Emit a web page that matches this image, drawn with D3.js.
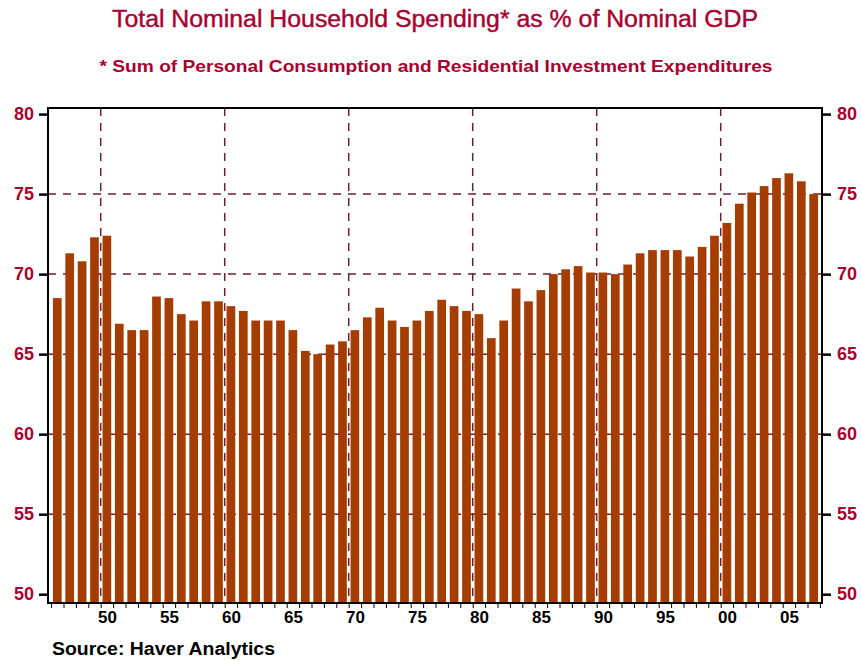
<!DOCTYPE html>
<html>
<head>
<meta charset="utf-8">
<script src="https://cdn.jsdelivr.net/npm/d3@7"></script>
<style>
    body { margin: 0; background: #fff; }
    svg { display: block; font-family: "Liberation Sans", Arial, Helvetica, sans-serif; }
</style>
</head>
<body>
<svg id="chart" width="861" height="661"></svg>
<script>

// one bar per year
const years = [
    1946, 1947, 1948, 1949, 1950, 1951, 1952, 1953, 1954, 1955,
    1956, 1957, 1958, 1959, 1960, 1961, 1962, 1963, 1964, 1965,
    1966, 1967, 1968, 1969, 1970, 1971, 1972, 1973, 1974, 1975,
    1976, 1977, 1978, 1979, 1980, 1981, 1982, 1983, 1984, 1985,
    1986, 1987, 1988, 1989, 1990, 1991, 1992, 1993, 1994, 1995,
    1996, 1997, 1998, 1999, 2000, 2001, 2002, 2003, 2004, 2005,
    2006, 2007
];

// household spending, % of nominal GDP
const spending = [
    68.5, 71.3, 70.8, 72.3, 72.4, 66.9, 66.5, 66.5, 68.6, 68.5,
    67.5, 67.1, 68.3, 68.3, 68.0, 67.7, 67.1, 67.1, 67.1, 66.5,
    65.2, 65.0, 65.6, 65.8, 66.5, 67.3, 67.9, 67.1, 66.7, 67.1,
    67.7, 68.4, 68.0, 67.7, 67.5, 66.0, 67.1, 69.1, 68.3, 69.0,
    70.0, 70.3, 70.5, 70.1, 70.1, 70.0, 70.6, 71.3, 71.5, 71.5,
    71.5, 71.1, 71.7, 72.4, 73.2, 74.4, 75.1, 75.5, 76.0, 76.3,
    75.8, 75.0
];

const yTicks = [50, 55, 60, 65, 70, 75, 80];
const yGridValues = [55, 60, 65, 70, 75];
const xGridYears = [1950, 1960, 1970, 1980, 1990, 2000];
const xLabelYears = [1950, 1955, 1960, 1965, 1970, 1975, 1980, 1985, 1990, 1995, 2000, 2005];
const xLabels = ["50", "55", "60", "65", "70", "75", "80", "85", "90", "95", "00", "05"];

class SpendingChart {

    constructor(svg) {

        this.svg = svg;
        this.left = 48;
        this.right = 822;
        this.top = 108;
        this.bottom = 603;

        this.red = "#a8002f";
        this.barColor = "#a53c00";
        this.gridColor = "#6e1f2a";

        this.x = d3.scaleLinear()
            .domain([1945.75, 2008.17])
            .range([this.left, this.right]);
        this.y = d3.scaleLinear()
            .domain([49.45, 80.38])
            .range([this.bottom, this.top]);

        this.drawGrid();
        this.drawBars();
        this.drawAxes();
        this.drawFrame();
        this.drawTexts();

    }

    drawGrid() {

        let grid = this.svg
            .append("g")
                .attr("id", "grid")
                .attr("stroke", this.gridColor)
                .attr("stroke-width", 1.5)
                .attr("stroke-dasharray", "8,7");

        grid.selectAll("line.hgrid")
            .data(yGridValues)
            .enter()
            .append("line")
                .classed("hgrid", true)
                .attr("x1", this.left)
                .attr("x2", this.right)
                .attr("y1", d => this.y(d))
                .attr("y2", d => this.y(d));

        grid.selectAll("line.vgrid")
            .data(xGridYears)
            .enter()
            .append("line")
                .classed("vgrid", true)
                .attr("x1", d => this.x(d))
                .attr("x2", d => this.x(d))
                .attr("y1", this.top)
                .attr("y2", this.bottom);
    }

    drawBars() {

        let barWidth = 8.7;

        this.svg
            .append("g")
                .attr("id", "bars")
                .selectAll("rect")
                .data(years)
                .enter()
                .append("rect")
                    .attr("x", d => this.x(d + 0.5) - barWidth / 2)
                    .attr("width", barWidth)
                    .attr("y", (d, i) => this.y(spending[i]))
                    .attr("height", (d, i) => this.y.range()[0] - this.y(spending[i]))
                    .attr("fill", this.barColor);
    }

    drawAxes() {

        let styleY = (g) => {
            g.select(".domain").remove();
            g.selectAll(".tick line")
                .attr("stroke", "#000")
                .attr("stroke-width", 2.5);
            g.selectAll(".tick text")
                .attr("fill", this.red)
                .attr("font-size", 18)
                .attr("font-weight", "bold");
        };

        this.svg
            .append("g")
                .attr("transform", `translate(${this.left},0)`)
                .call(d3.axisLeft(this.y).tickValues(yTicks).tickSize(9).tickPadding(5))
                .call(styleY);

        this.svg
            .append("g")
                .attr("transform", `translate(${this.right},0)`)
                .call(d3.axisRight(this.y).tickValues(yTicks).tickSize(9).tickPadding(6))
                .call(styleY);

        // small ticks at each year boundary
        this.svg
            .append("g")
                .attr("transform", `translate(0,${this.bottom})`)
                .call(d3.axisBottom(this.x).tickValues(years.concat([2008])).tickSize(5).tickFormat(""))
                .call(g => {
                    g.select(".domain").remove();
                    g.selectAll(".tick line").attr("stroke", "#000").attr("stroke-width", 1);
                });

        // two-digit year labels under the bar they name
        this.svg
            .append("g")
                .attr("transform", `translate(0,${this.bottom})`)
                .call(d3.axisBottom(this.x)
                    .tickValues(xLabelYears.map(d => d + 0.5))
                    .tickSize(0)
                    .tickPadding(8)
                    .tickFormat((d, i) => xLabels[i]))
                .call(g => {
                    g.select(".domain").remove();
                    g.selectAll(".tick text")
                        .attr("fill", "#000")
                        .attr("font-size", 17)
                        .attr("font-weight", "bold");
                });
    }

    drawFrame() {

        this.svg
            .append("rect")
                .attr("x", this.left)
                .attr("y", this.top)
                .attr("width", this.right - this.left)
                .attr("height", this.bottom - this.top)
                .attr("fill", "none")
                .attr("stroke", "#000")
                .attr("stroke-width", 2);
    }

    drawTexts() {

        // the original type is wider than Liberation Sans, so stretch to its measured widths
        this.svg
            .append("text")
                .attr("x", 435)
                .attr("y", 27)
                .attr("text-anchor", "middle")
                .attr("fill", this.red)
                .attr("stroke", this.red)
                .attr("stroke-width", 0.4)
                .attr("font-size", 23)
                .attr("textLength", 646)
                .attr("lengthAdjust", "spacingAndGlyphs")
                .text("Total Nominal Household Spending* as % of Nominal GDP");

        this.svg
            .append("text")
                .attr("x", 436)
                .attr("y", 72)
                .attr("text-anchor", "middle")
                .attr("fill", this.red)
                .attr("font-size", 17)
                .attr("font-weight", "bold")
                .attr("textLength", 673)
                .attr("lengthAdjust", "spacingAndGlyphs")
                .text("* Sum of Personal Consumption and Residential Investment Expenditures");

        this.svg
            .append("text")
                .attr("x", 52)
                .attr("y", 655)
                .attr("fill", "#000")
                .attr("font-size", 18)
                .attr("font-weight", "bold")
                .attr("textLength", 223)
                .attr("lengthAdjust", "spacingAndGlyphs")
                .text("Source: Haver Analytics");
    }

}

new SpendingChart(d3.select("#chart"));

</script>
</body>
</html>
